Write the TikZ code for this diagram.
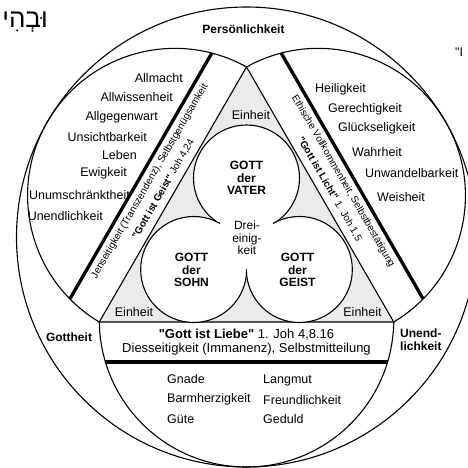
\documentclass[tikz,border=0pt]{standalone}
\usepackage{fontspec}
\setmainfont{Liberation Sans}
\newfontfamily\hebfont[Script=Hebrew]{Liberation Sans}
\TeXXeTstate=1

\begin{document}
\begin{tikzpicture}[x=1pt,y=1pt]
    \tikzset{word/.style={font=\fontsize{12.5}{14}\selectfont, inner sep=0pt},
        head/.style={font=\bfseries\fontsize{12}{13}\selectfont, inner sep=0pt, align=left},
        gott/.style={font=\bfseries\fontsize{12}{12.5}\selectfont, inner sep=0pt, align=center},
        band/.style={font=\fontsize{10}{11}\selectfont, inner sep=0pt},
        thin/.style={line width=1.1pt},
        bar/.style={line width=3.3pt}}
    \fill[white] (-246.5,-231) rectangle (220.5,237);
    \useasboundingbox (-246.5,-231) rectangle (220.5,237);
    \coordinate (O) at (0,0);
    \coordinate (apex) at (90:170);
    \coordinate (lv) at (210:170);
    \coordinate (rv) at (330:170);
    \coordinate (Lc) at (150:82.75);
    \coordinate (Rc) at (30:82.75);
    \coordinate (Bc) at (270:82.75);
    \coordinate (vater) at (0,59);
    \coordinate (sohn) at (-52.83,-32.5);
    \coordinate (geist) at (52.83,-32.5);
    \filldraw[thin, fill=gray!16] (apex) -- (lv) -- (rv) -- cycle;
    \foreach \c in {vater,sohn,geist}
        \filldraw[thin, fill=white] (\c) circle (53);
    \fill[white] (vater) -- (sohn) -- (geist) -- cycle;
    \begin{scope}
        \clip (Lc) circle (147.25);
        \draw[bar] (150:122) ++(60:170) -- ++(240:340);
    \end{scope}
    \begin{scope}
        \clip (Rc) circle (147.25);
        \draw[bar] (30:122) ++(120:170) -- ++(300:340);
    \end{scope}
    \begin{scope}
        \clip (Bc) circle (147.25);
        \draw[bar] (270:125) ++(180:170) -- ++(0:340);
    \end{scope}
    \draw[thin] (apex) arc[start angle=60.87, end angle=239.13, radius=147.25];
    \draw[thin] (rv) arc[start angle=-59.13, end angle=119.13, radius=147.25];
    \draw[thin] (lv) arc[start angle=180.87, end angle=359.13, radius=147.25];
    \draw[thin] (O) circle (230);

    \node[gott] (Nvater) at (vater) {GOTT\\der\\VATER};
    \node[gott] (Nsohn) at (-55,-33) {GOTT\\der\\SOHN};
    \node[gott] (Ngeist) at (51,-33) {GOTT\\der\\GEIST};
    \node[word, align=center, font=\fontsize{12}{12.5}\selectfont] (drei) at (0.5,-1) {Drei-\\einig-\\keit};
    \node[word] (ein1) at (4.5,122) {Einheit};
    \node[word] (ein2) at (-112.5,-75) {Einheit};
    \node[word] (ein3) at (116,-75) {Einheit};

    \node[band, rotate=60] (geist1) at (150:111.5) {Jenseitigkeit (Transzendenz), Selbstgenügsamkeit};
    \node[band, rotate=60] (geist2) at (150:96) {\textbf{\textquotedbl Gott ist Geist\textquotedbl} Joh 4,24};
    \node[band, rotate=-60] (licht1) at (30:111.5) {Ethische Vollkommenheit, Selbstbestätigung};
    \node[band, rotate=-60] (licht2) at (30:96) {\textbf{\textquotedbl Gott ist Licht\textquotedbl} 1. Joh 1,5};
    \node[band, font=\fontsize{13}{14}\selectfont] (liebe1) at (0,-97.5) {\textbf{\textquotedbl Gott ist Liebe\textquotedbl} 1. Joh 4,8.16};
    \node[band, font=\fontsize{13}{14}\selectfont] (liebe2) at (0,-112) {Diesseitigkeit (Immanenz), Selbstmitteilung};

    \node[head] (pers) at (-3,208) {Persönlichkeit};
    \node[head] (gottheit) at (-177.5,-100) {Gottheit};
    \node[head, anchor=west] (unend) at (153.5,-103) {Unend-\\lichkeit};

    \node[word, anchor=east] (w1) at (-63.5,159) {Allmacht};
    \node[word, anchor=east] (w2) at (-73.5,140) {Allwissenheit};
    \node[word, anchor=east] (w3) at (-88.5,120) {Allgegenwart};
    \node[word, anchor=east] (w4) at (-99.5,100) {Unsichtbarkeit};
    \node[word, anchor=east] (w5) at (-109.5,82) {Leben};
    \node[word, anchor=east] (w6) at (-119.5,64) {Ewigkeit};
    \node[word, anchor=east] (w7) at (-116.5,42) {Unumschränktheit};
    \node[word, anchor=east] (w8) at (-143.5,21) {Unendlichkeit};

    \node[word, anchor=west] (r1) at (68.5,148) {Heiligkeit};
    \node[word, anchor=west] (r2) at (81.5,128) {Gerechtigkeit};
    \node[word, anchor=west] (r3) at (91.5,109) {Glückseligkeit};
    \node[word, anchor=west] (r4) at (105.5,85) {Wahrheit};
    \node[word, anchor=west] (r5) at (118.5,64) {Unwandelbarkeit};
    \node[word, anchor=west] (r6) at (130.5,40) {Weisheit};

    \node[word, anchor=west] (b1) at (-79.5,-142) {Gnade};
    \node[word, anchor=west] (b2) at (-79.5,-162) {Barmherzigkeit};
    \node[word, anchor=west] (b3) at (-79.5,-182) {Güte};
    \node[word, anchor=west] (b4) at (16.5,-143) {Langmut};
    \node[word, anchor=west] (b5) at (16.5,-163) {Freundlichkeit};
    \node[word, anchor=west] (b6) at (16.5,-182) {Geduld};

    \node[anchor=east, inner sep=0pt, font=\hebfont\fontsize{26}{28}\selectfont] (hebr) at (-198.5,215) {\beginR וּבְהִי\endR};
    \node[word, anchor=west] (quote) at (208.5,185) {\textquotedbl I};
\end{tikzpicture}
\end{document}
